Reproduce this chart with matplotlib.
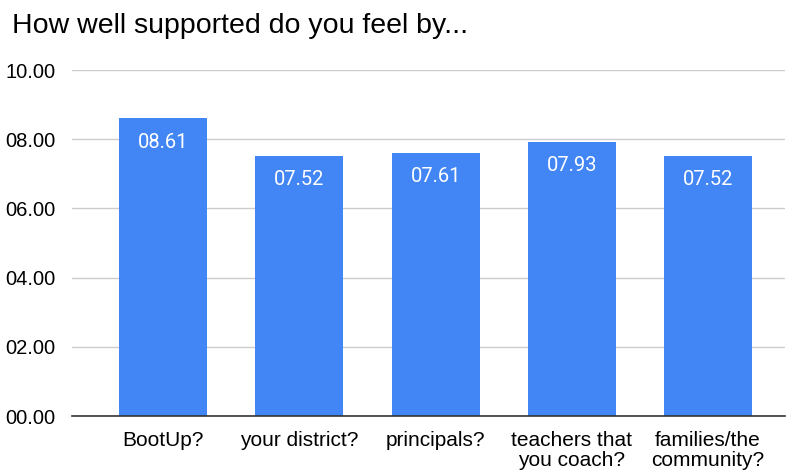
import matplotlib.pyplot as plt
import numpy as np

categories = ["BootUp?", "your district?", "principals?",
              "teachers that\nyou coach?", "families/the\ncommunity?"]
scores = [8.61, 7.52, 7.61, 7.93, 7.52]
y_ticks = [0, 2, 4, 6, 8, 10]

BAR_COLOR = "#4285f4"


def main():
    fig = plt.figure(figsize=(7.91, 4.75), dpi=100)
    axis = fig.add_axes([72 / 791, 1 - 416 / 475, 713 / 791, 346 / 475])

    x = np.arange(len(categories))
    bars = axis.bar(x, scores, width=0.646, color=BAR_COLOR, zorder=2)

    for rect, value in zip(bars, scores):
        axis.annotate(
            f"{value:05.2f}",
            (rect.get_x() + rect.get_width() / 2, value),
            xytext=(0, -24), textcoords="offset pixels",
            ha="center", va="center", color="white",
            fontsize=14.5, family=["Roboto", "DejaVu Sans"], zorder=3,
        )

    axis.set_xlim(-0.67, 4.565)
    axis.set_ylim(0, 10)
    axis.set_yticks(y_ticks)
    axis.set_yticklabels([f"{t:05.2f}" for t in y_ticks],
                         fontsize=14.5, family="Liberation Sans")
    axis.set_xticks(x)
    axis.set_xticklabels(categories, fontsize=15, family="Liberation Sans",
                         linespacing=1.05)
    axis.tick_params(axis="both", length=0)
    axis.tick_params(axis="y", pad=12)
    axis.tick_params(axis="x", pad=11)

    axis.grid(axis="y", color="#cccccc", linewidth=1, zorder=0)
    for side in ("top", "right", "left"):
        axis.spines[side].set_visible(False)
    axis.spines["bottom"].set_color("#333333")
    axis.spines["bottom"].set_linewidth(1.2)
    axis.spines["bottom"].set_zorder(4)

    fig.text(12 / 791, 1 - 26 / 475, "How well supported do you feel by...",
             fontsize=20.5, family="Liberation Sans", va="center",
             color="#000000")

    fig.savefig("out.png", dpi=100)


if __name__ == "__main__":
    main()
